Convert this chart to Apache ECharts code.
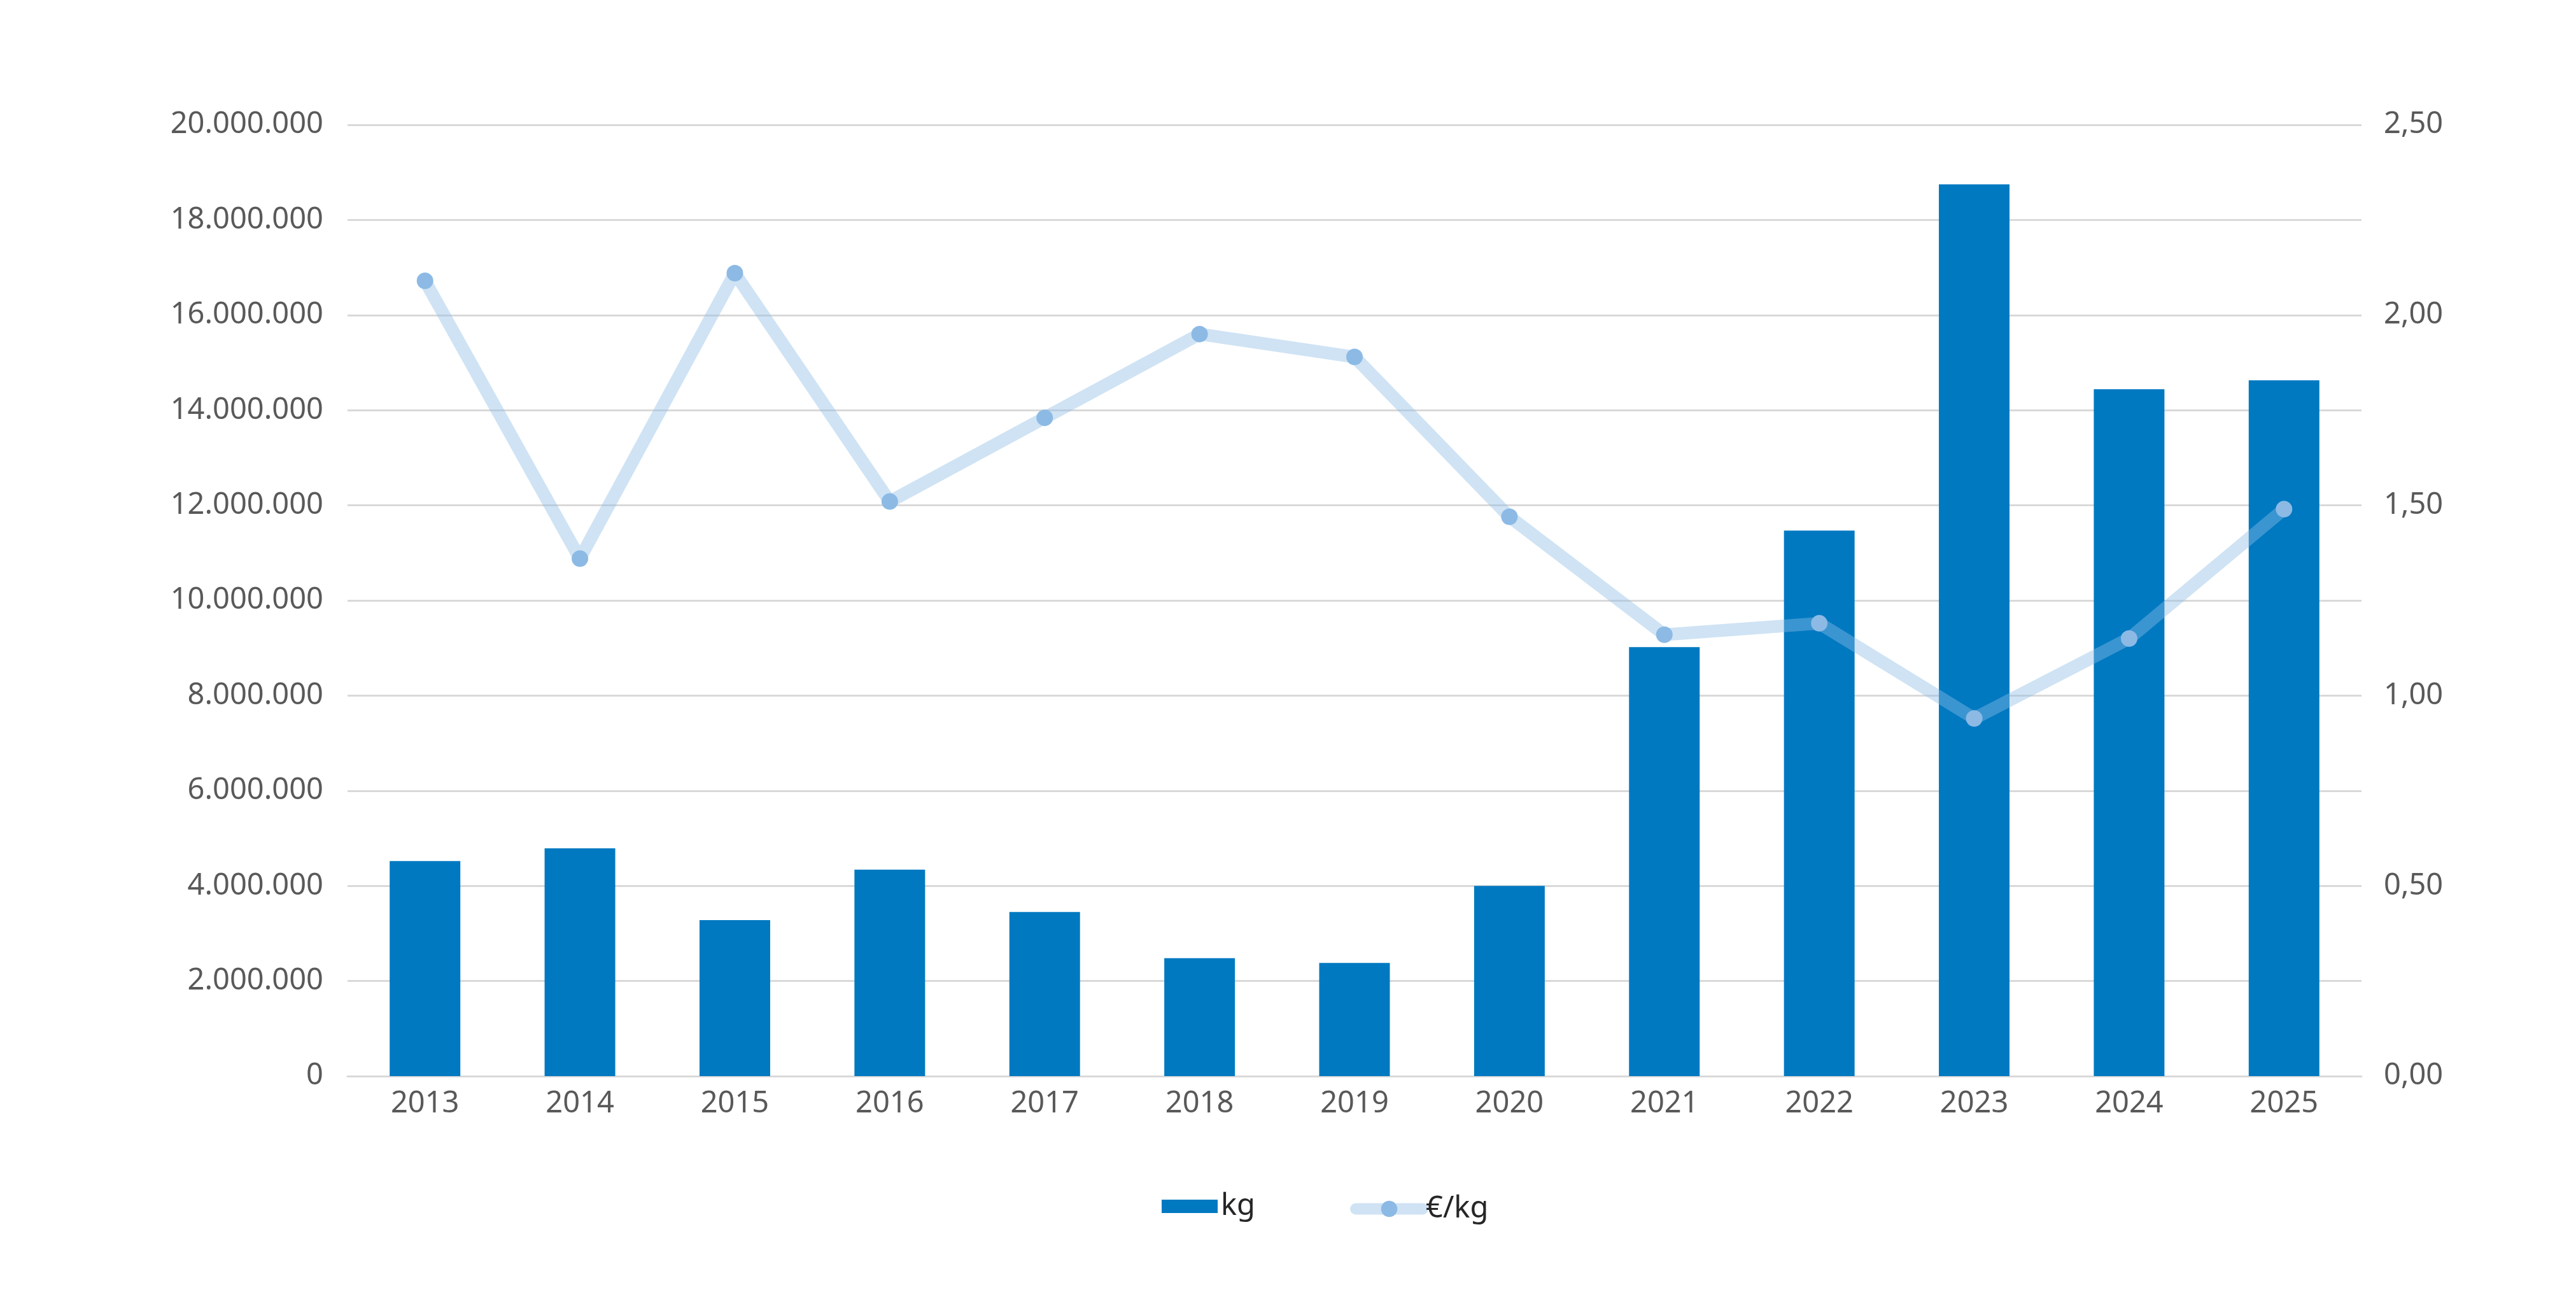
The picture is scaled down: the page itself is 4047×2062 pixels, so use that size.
<!DOCTYPE html>
<html>
<head>
<meta charset="utf-8">
<script src="https://cdn.jsdelivr.net/npm/echarts@6/dist/echarts.min.js"></script>
<style>
  html, body { margin: 0; padding: 0; background: #fff; }
  #chart { width: 4047px; height: 2062px; }
</style>
</head>
<body>
<div id="chart"></div>
<script>
// jaren en waarden
var years = ['2013', '2014', '2015', '2016', '2017', '2018', '2019', '2020', '2021', '2022', '2023', '2024', '2025']
var kgValues = [4520000, 4790000, 3280000, 4340000, 3450000, 2480000, 2380000, 4000000, 9020000, 11470000, 18750000, 14440000, 14630000]
var priceValues = [2.09, 1.36, 2.11, 1.51, 1.73, 1.95, 1.89, 1.47, 1.16, 1.19, 0.94, 1.15, 1.49]

var fontName = '"Noto Sans", "Open Sans", sans-serif'
var labelColor = '#595959'
var gridColor = '#d9d9d9'
var lineColor = 'rgb(140,188,229)'

function fmtThousands(v) {
  return String(Math.round(v)).replace(/\B(?=(\d{3})+(?!\d))/g, '.')
}
function fmtPrice(v) {
  return v.toFixed(2).replace('.', ',')
}

var chart = echarts.init(document.getElementById('chart'))
var option = {
  backgroundColor: '#ffffff',
  animation: false,
  textStyle: { fontFamily: fontName },
  grid: {
    left: 546,
    right: 4047 - 3710,
    top: 196,
    bottom: 2062 - 1690,
    containLabel: false
  },
  legend: [
    {
      data: [{ name: 'kg', icon: 'rect' }],
      left: 1820,
      top: 1866,
      itemWidth: 88,
      itemHeight: 21,
      itemGap: 10,
      textStyle: { color: '#262626', fontSize: 47, fontFamily: fontName }
    },
    {
      data: ['€/kg'],
      left: 2116,
      top: 1870,
      itemWidth: 105,
      itemHeight: 32,
      lineStyle: { width: 18, color: lineColor, opacity: 0.42, cap: 'round' },
      textStyle: { color: '#262626', fontSize: 47, fontFamily: fontName }
    }
  ],
  xAxis: {
    type: 'category',
    data: years,
    axisLine: { show: true, lineStyle: { color: gridColor, width: 3 } },
    axisTick: { show: false },
    axisLabel: { color: labelColor, fontSize: 47, margin: 20, fontFamily: fontName }
  },
  yAxis: [
    {
      type: 'value',
      min: 0,
      max: 20000000,
      interval: 2000000,
      axisLine: { show: false },
      axisTick: { show: false },
      splitLine: { lineStyle: { color: gridColor, width: 3 } },
      axisLabel: {
        color: labelColor,
        fontSize: 47,
        margin: 38,
        fontFamily: fontName,
        formatter: fmtThousands
      }
    },
    {
      type: 'value',
      min: 0,
      max: 2.5,
      interval: 0.5,
      position: 'right',
      axisLine: { show: false },
      axisTick: { show: false },
      splitLine: { show: false },
      axisLabel: {
        color: labelColor,
        fontSize: 47,
        margin: 35,
        fontFamily: fontName,
        formatter: fmtPrice
      }
    }
  ],
  series: [
    {
      name: 'kg',
      type: 'bar',
      yAxisIndex: 0,
      barWidth: '45.6%',
      itemStyle: { color: '#0079c1' },
      data: kgValues
    },
    {
      name: '€/kg',
      type: 'line',
      yAxisIndex: 1,
      symbol: 'circle',
      symbolSize: 26,
      lineStyle: { color: lineColor, width: 20, opacity: 0.42 },
      itemStyle: { color: '#8cbae5', borderWidth: 0 },
      data: priceValues
    }
  ]
}
chart.setOption(option)
</script>
</body>
</html>
